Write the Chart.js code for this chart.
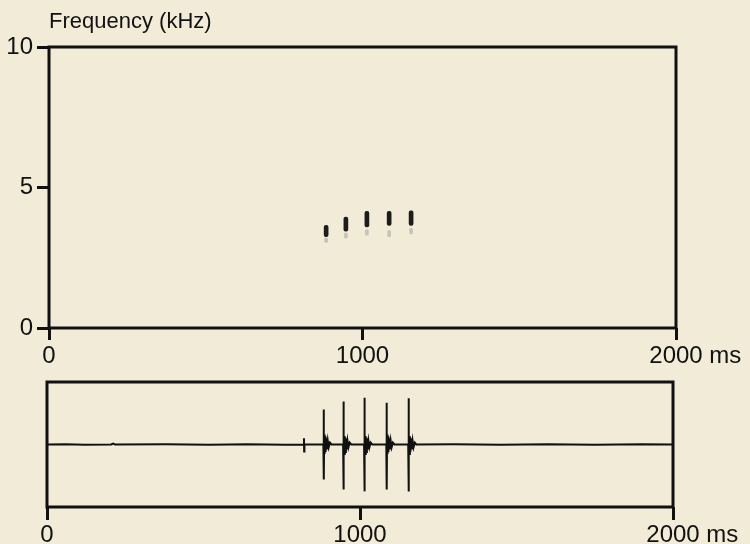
<!DOCTYPE html>
<html>
<head>
<meta charset="utf-8">
<script src="https://cdn.jsdelivr.net/npm/chart.js@4.4.1/dist/chart.umd.min.js"></script>
<style>
  html, body { margin: 0; padding: 0; background: #f1ebd7; }
  canvas { display: block; }
</style>
</head>
<body>
<canvas id="spectrogram" width="750" height="372"></canvas>
<canvas id="waveform" width="750" height="172"></canvas>
<script>
// axes
const timeTicks = [0, 1000, 2000];
const freqTicks = [0, 5, 10];

// the five pulses of the call (ms, kHz)
const pulseTimes = [884, 947, 1014, 1085, 1155];
const pulseLow = [3.25, 3.45, 3.6, 3.65, 3.65];
const pulseHigh = [3.65, 3.95, 4.15, 4.15, 4.17];
// faint grey traces under each pulse
const echoLow = [3.05, 3.2, 3.3, 3.25, 3.35];
const echoHigh = [3.2, 3.38, 3.5, 3.48, 3.55];

// oscillogram: spike heights (relative amplitude)
const pulseUp = [0.56, 0.69, 0.75, 0.67, 0.74];
const pulseDown = [-0.56, -0.72, -0.75, -0.72, -0.75];
// small click just before the call
const clickTime = 821;
const clickUp = 0.1;
const clickDown = -0.11;
// ringing after each spike
const ringOffsets = [1.5, 3, 4.5, 6, 8, 10, 13, 16, 20, 25];
const ringAmps = [0.16, -0.15, 0.13, -0.12, 0.1, -0.08, 0.06, -0.045, 0.03, 0];
// background noise on the baseline
const noiseTimes = [0, 60, 120, 205, 211, 217, 380, 520, 640, 760, 1300, 1450, 1600, 1750, 1900, 2000];
const noiseAmps = [0, 0.005, -0.005, 0, 0.015, 0, 0.005, -0.005, 0.005, -0.005, 0.005, -0.005, 0.005, -0.005, 0.005, 0];

const ink = '#111';
Chart.defaults.font.family = "'Liberation Sans', Arial, Helvetica, sans-serif";
Chart.defaults.color = ink;

// frame round the plot area
const boxPlugin = {
  id: 'box',
  afterDraw(chart) {
    const a = chart.chartArea;
    const ctx = chart.ctx;
    ctx.save();
    ctx.strokeStyle = ink;
    ctx.lineWidth = 3;
    ctx.strokeRect(a.left, a.top, a.right - a.left, a.bottom - a.top);
    ctx.restore();
  }
};

// " ms" after the last time label
const msPlugin = {
  id: 'msUnit',
  afterDraw(chart) {
    const x = chart.scales.x;
    const ctx = chart.ctx;
    const font = Chart.helpers.toFont(x.options.ticks.font);
    const last = timeTicks[timeTicks.length - 1];
    ctx.save();
    ctx.font = font.string;
    ctx.fillStyle = ink;
    ctx.textBaseline = 'middle';
    ctx.textAlign = 'left';
    const px = x.getPixelForValue(last);
    const w = ctx.measureText(String(last)).width;
    const y = x.top + x.options.grid.tickLength + x.options.ticks.padding + font.lineHeight / 2;
    ctx.fillText(' ms', px + w / 2, y);
    ctx.restore();
  }
};

const plain = v => String(v);

function timeAxis(tickLen, height, pad) {
  return {
    type: 'linear',
    min: 0,
    max: 2000,
    offset: false,
    afterBuildTicks: s => { s.ticks = timeTicks.map(v => ({ value: v })); },
    ticks: { font: { size: 24 }, padding: pad, maxRotation: 0, color: ink, callback: plain },
    grid: { drawOnChartArea: false, drawTicks: true, tickLength: tickLen, lineWidth: 3, color: ink, offset: false },
    border: { display: false },
    afterFit: s => { s.height = height; }
  };
}

// spectrogram
new Chart(document.getElementById('spectrogram'), {
  type: 'bar',
  data: {
    datasets: [
      {
        data: pulseTimes.map((t, i) => ({ x: t, y: [echoLow[i], echoHigh[i]] })),
        backgroundColor: 'rgba(120,120,120,0.35)',
        barThickness: 3,
        borderRadius: 1.5,
        borderSkipped: false,
        grouped: false
      },
      {
        data: pulseTimes.map((t, i) => ({ x: t, y: [pulseLow[i], pulseHigh[i]] })),
        backgroundColor: '#1c1c1c',
        barThickness: 4,
        borderRadius: 2,
        borderSkipped: false,
        grouped: false
      }
    ]
  },
  options: {
    responsive: false,
    animation: false,
    layout: { padding: { left: 0, right: 74, top: 0, bottom: 0 } },
    plugins: {
      legend: { display: false },
      tooltip: { enabled: false },
      title: {
        display: true,
        text: 'Frequency (kHz)',
        align: 'start',
        fullSize: false,
        color: ink,
        font: { size: 22, weight: 'normal' },
        padding: { top: 9, bottom: 11.6 }
      }
    },
    scales: {
      x: timeAxis(12, 44, 2),
      y: {
        type: 'linear',
        min: 0,
        max: 10,
        afterBuildTicks: s => { s.ticks = freqTicks.map(v => ({ value: v })); },
        ticks: { font: { size: 24 }, padding: 4, color: ink, callback: plain },
        grid: { drawOnChartArea: false, drawTicks: true, tickLength: 12, lineWidth: 3, color: ink },
        border: { display: false },
        afterFit: s => { s.width = 49; }
      }
    }
  },
  plugins: [boxPlugin, msPlugin]
});

// oscillogram points
const wave = noiseTimes.map((t, i) => ({ x: t, y: noiseAmps[i] }));
wave.push({ x: clickTime - 0.5, y: 0 }, { x: clickTime, y: clickUp }, { x: clickTime + 0.6, y: clickDown }, { x: clickTime + 1.5, y: 0 });
pulseTimes.forEach((t, i) => {
  wave.push({ x: t - 1, y: 0 }, { x: t, y: pulseUp[i] }, { x: t + 0.6, y: pulseDown[i] });
  ringOffsets.forEach((o, j) => wave.push({ x: t + o, y: ringAmps[j] }));
});
wave.sort((a, b) => a.x - b.x);

new Chart(document.getElementById('waveform'), {
  type: 'line',
  data: {
    datasets: [{
      data: wave,
      borderColor: ink,
      borderWidth: 2,
      pointRadius: 0,
      tension: 0
    }]
  },
  options: {
    responsive: false,
    animation: false,
    layout: { padding: { left: 47, right: 77, top: 10, bottom: 0 } },
    plugins: { legend: { display: false }, tooltip: { enabled: false } },
    scales: {
      x: timeAxis(13, 37, 1),
      y: { type: 'linear', min: -1, max: 1, display: false }
    }
  },
  plugins: [boxPlugin, msPlugin]
});
</script>
</body>
</html>
